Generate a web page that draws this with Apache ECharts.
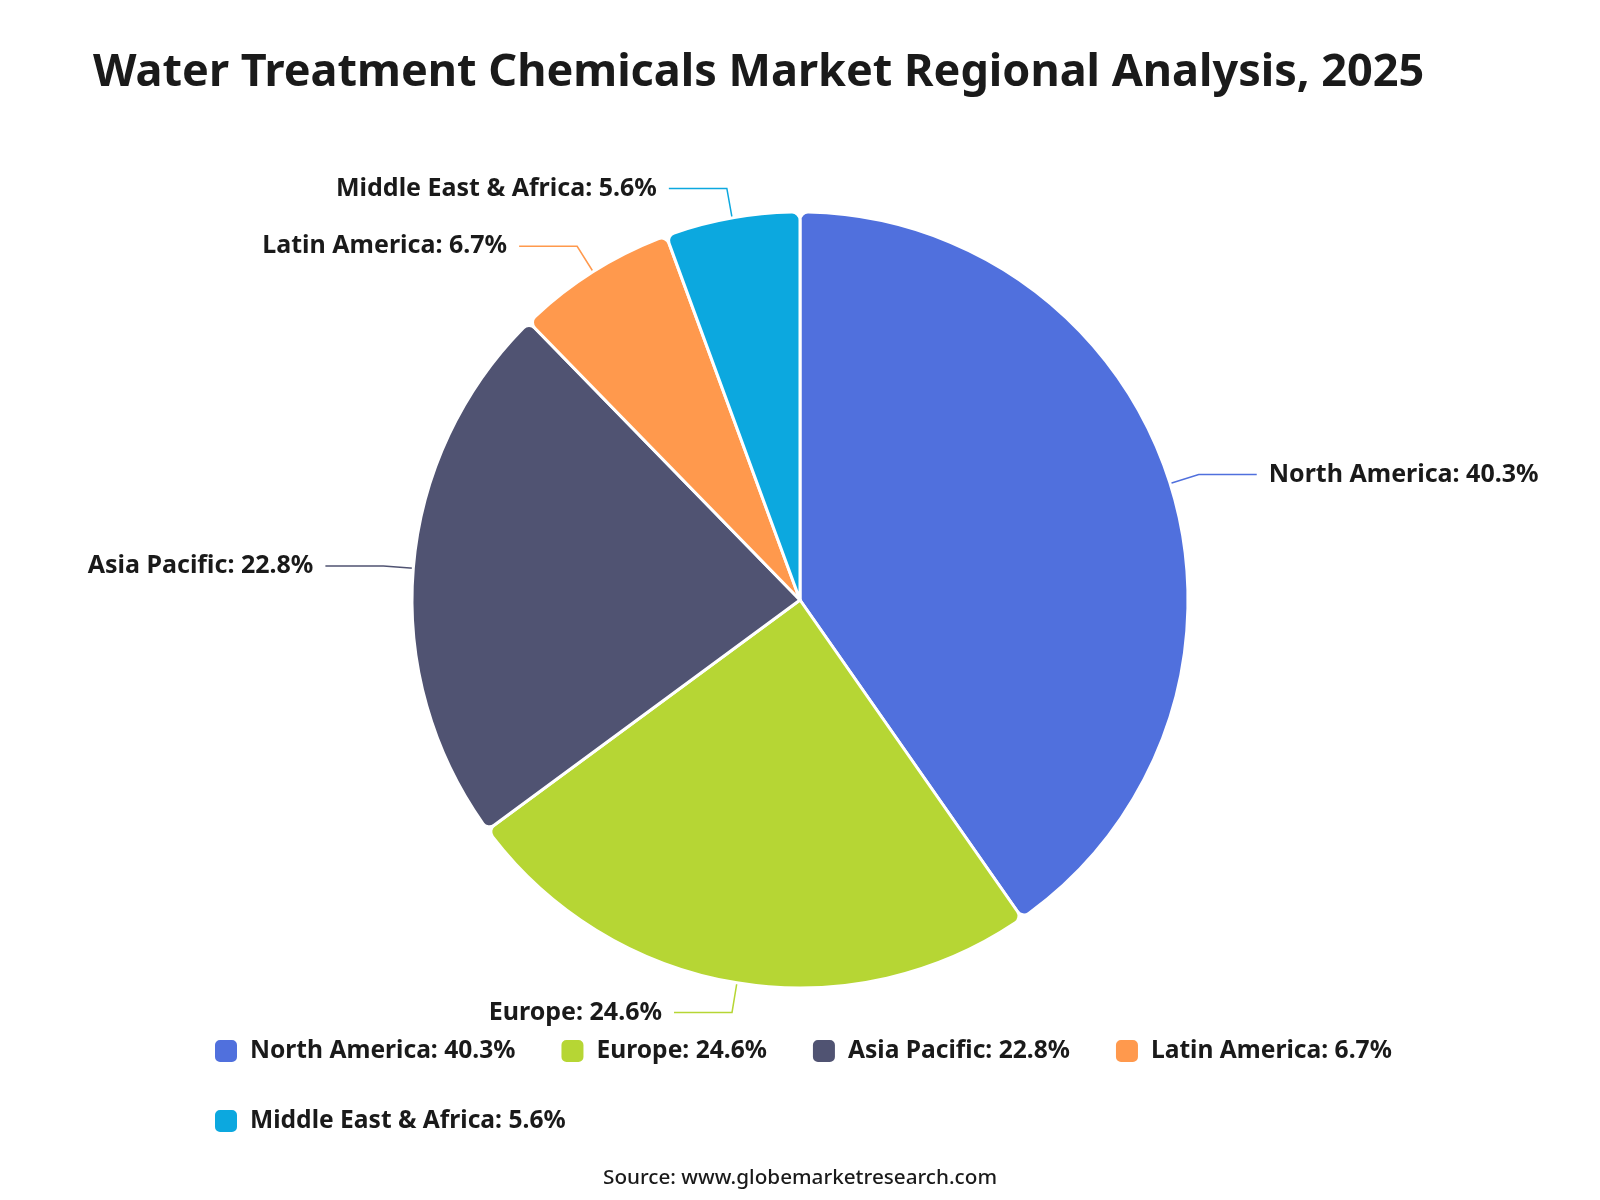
<!DOCTYPE html>
<html>
<head>
<meta charset="utf-8">
<script src="https://cdn.jsdelivr.net/npm/echarts@6/dist/echarts.min.js"></script>
<style>
html,body{margin:0;padding:0;background:#fff;}
#chart{width:1600px;height:1200px;}
</style>
</head>
<body>
<div id="chart"></div>
<script>
const titleText = 'Water Treatment Chemicals Market Regional Analysis, 2025';
const sourceText = 'Source: www.globemarketresearch.com';
const regions = ['North America', 'Europe', 'Asia Pacific', 'Latin America', 'Middle East & Africa'];
const shares = [40.3, 24.6, 22.8, 6.7, 5.6];

const FONT = '"Noto Sans", "Open Sans", sans-serif';
const chart = echarts.init(document.getElementById('chart'));
const data = regions.map((r, i) => ({ name: r, value: shares[i] }));
const lookup = {};
regions.forEach((r, i) => lookup[r] = shares[i]);

chart.setOption({
  backgroundColor: '#ffffff',
  color: ['#5070dd', '#b6d634', '#505372', '#ff994d', '#0ca8df'],
  title: [{
    text: titleText,
    left: 88,
    top: 46,
    textStyle: { fontFamily: FONT, fontSize: 45, fontWeight: 'bold', color: '#1a1a1a' }
  }, {
    text: sourceText,
    left: 'center',
    top: 1163,
    textStyle: { fontFamily: FONT, fontSize: 20.7, fontWeight: 500, color: '#1a1a1a' }
  }],
  legend: {
    left: 213,
    right: 180,
    top: 1038,
    padding: 0,
    itemWidth: 24,
    itemHeight: 24,
    itemGap: 44,
    icon: 'roundRect',
    formatter: name => name + ': ' + lookup[name] + '%',
    textStyle: { fontFamily: FONT, fontSize: 24.6, fontWeight: 'bold', color: '#1a1a1a', padding: [0, 0, 0, 7] }
  },
  series: [{
    type: 'pie',
    center: [800, 600],
    radius: [0, 388],
    startAngle: 90,
    clockwise: true,
    data: data,
    itemStyle: { borderColor: '#fff', borderWidth: 3, borderRadius: 8 },
    label: {
      formatter: '{b}: {c}%',
      fontFamily: FONT, fontSize: 25, fontWeight: 'bold', color: '#1a1a1a',
      distanceToLabelLine: 12
    },
    labelLine: { length: 30, length2: 58, lineStyle: { width: 1.5 } },
    emphasis: { disabled: true }
  }]
});
</script>
</body>
</html>
